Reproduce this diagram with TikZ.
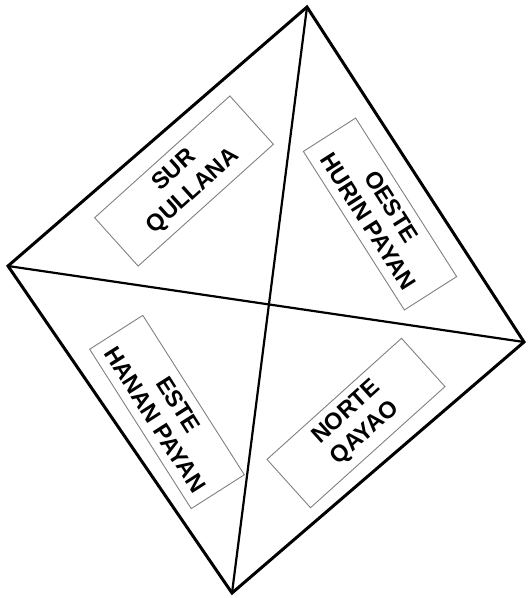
\documentclass[tikz,border=0pt]{standalone}
\usepackage{fontspec}
\setmainfont{Liberation Sans}
\usetikzlibrary{positioning}
\definecolor{boxcol}{HTML}{808080}
\tikzset{
  edge/.style={line width=3pt, line join=miter},
  diag/.style={line width=2.2pt},
  quarter/.style={rectangle, draw=boxcol, line width=0.9pt, align=center,
    inner sep=2pt, font=\bfseries\fontsize{23.5}{28}\selectfont},
}

\begin{document}
\begin{tikzpicture}[x=1pt, y=-1pt]
  \useasboundingbox (0,0) rectangle (528,598);
  % corners of the square
  \coordinate (T) at (307,7);
  \coordinate (L) at (8,266);
  \coordinate (R) at (524,342);
  \coordinate (B) at (232,593);
  \draw[edge] (T) -- (R) -- (B) -- (L) -- cycle;
  \draw[diag] (T) -- (B);
  \draw[diag] (L) -- (R);
  % the four quarters
  \node[quarter, rotate=42, minimum width=182pt, minimum height=65pt]
    (sur) at (184,181) {SUR\\QULLANA};
  \node[quarter, rotate=-57.5, minimum width=188pt, minimum height=62pt]
    (oeste) at (380,214) {OESTE\\HURIN PAYAN};
  \node[quarter, rotate=-57.5, minimum width=189pt, minimum height=63pt]
    (este) at (167,412) {ESTE\\HANAN PAYAN};
  \node[quarter, rotate=42, minimum width=181pt, minimum height=65pt]
    (norte) at (356,423) {NORTE\\QAYAO};
\end{tikzpicture}
\end{document}
